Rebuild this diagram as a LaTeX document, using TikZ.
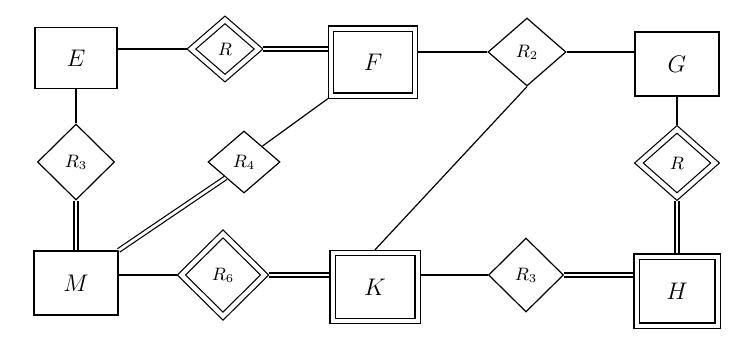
\documentclass[tikz,border=0pt]{standalone}
\usepackage{amsmath}
\usetikzlibrary{shapes.geometric,%
                positioning}

\begin{document}
\begin{tikzpicture}[line width=0.6pt, x=1pt, y=1pt]
  \tikzset{node distance = 75pt, on grid}
  \tikzset{EntBox/.style={draw, rectangle, inner sep=0pt,
                          font=\fontsize{12}{14}\selectfont}}
  \tikzset{WeakBox/.style={EntBox, double, double distance=2pt, outer sep=1.6pt}}
  \tikzset{RelDia/.style={draw, diamond, inner sep=0pt, font=\small}}
  \tikzset{IdRelDia/.style={RelDia, double, double distance=2.2pt, outer sep=1.7pt}}
  \tikzset{TotalEdge/.style={double, double distance=1.4pt}}
  \useasboundingbox (-38,-140) rectangle (328.5,29);

  % top row
  \node[EntBox, minimum width=41pt, minimum height=30.5pt] (E) at (0,0) {$E$};
  \node[IdRelDia, minimum width=35pt, minimum height=30.5pt,
        above right=4.5pt and 74.5pt of E] (Rt) {$R$};
  \node[WeakBox, minimum width=42pt, minimum height=33.5pt,
        below right=6.5pt and 74pt of Rt] (F) {$F$};
  \node[RelDia, minimum width=39pt, minimum height=34pt,
        above right=5pt and 77pt of F] (R2) {$R_2$};
  \node[EntBox, minimum width=42pt, minimum height=32pt,
        below right=6pt and 75pt of R2] (G) {$G$};

  % middle row
  \node[RelDia, minimum width=38.5pt, minimum height=38pt, below=52pt of E] (R3) {$R_3$};
  \node[RelDia, minimum width=36pt, minimum height=31pt, right=84pt of R3] (R4) {$R_4$};
  \node[IdRelDia, minimum width=39.5pt, minimum height=35pt, below=49.5pt of G] (Rr) {$R$};

  % bottom row
  \node[EntBox, minimum width=42pt, minimum height=32pt, below=60.5pt of R3] (M) {$M$};
  \node[IdRelDia, minimum width=43pt, minimum height=42.5pt,
        above right=4pt and 73.5pt of M] (R6) {$R_6$};
  \node[WeakBox, minimum width=42.5pt, minimum height=34pt,
        below right=6pt and 76pt of R6] (K) {$K$};
  \node[RelDia, minimum width=37.5pt, minimum height=37pt,
        above right=6pt and 75.5pt of K] (R3b) {$R_3$};
  \node[WeakBox, minimum width=40.5pt, minimum height=34.5pt,
        below right=8pt and 75.5pt of R3b] (H) {$H$};

  \draw (Rt.west) -- (Rt.west -| E.east);
  \draw[TotalEdge] (Rt.east) -- (Rt.east -| F.west);
  \draw (R2.west) -- (R2.west -| F.east);
  \draw (R2.east) -- (R2.east -| G.west);
  \draw (G) -- (Rr);
  \draw[TotalEdge] (Rr) -- (H);
  \draw (E) -- (R3);
  \draw[TotalEdge] (R3) -- (M);
  \draw[TotalEdge] (M.north east) -- (R4.south west);
  \draw (R4.north east) -- (F.south west);
  \draw (R6.west) -- (R6.west -| M.east);
  \draw[TotalEdge] (R6.east) -- (R6.east -| K.west);
  \draw (K.north) -- (R2.south);
  \draw (R3b.west) -- (R3b.west -| K.east);
  \draw[TotalEdge] (R3b.east) -- (R3b.east -| H.west);
\end{tikzpicture}
\end{document}
